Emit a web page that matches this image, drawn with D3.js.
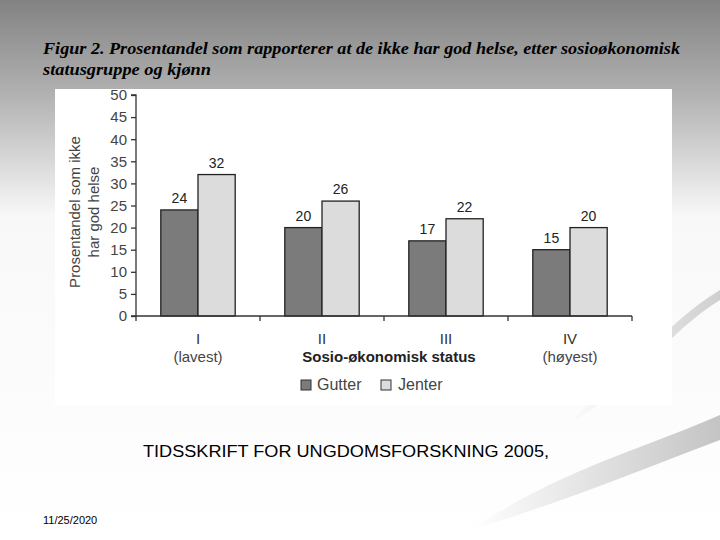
<!DOCTYPE html>
<html><head><meta charset="utf-8">
<script src="https://cdn.jsdelivr.net/npm/d3@7"></script>
<style>body{margin:0;background:#fff}svg{display:block}</style>
</head><body>
<script>
const categories = ["I", "II", "III", "IV"];
const catSub = ["(lavest)", "", "", "(høyest)"];
const series = ["Gutter", "Jenter"];
const gutter = [24, 20, 17, 15];
const jenter = [32, 26, 22, 20];
const yTicks = [0, 5, 10, 15, 20, 25, 30, 35, 40, 45, 50];
const colors = {Gutter: "#7b7b7b", Jenter: "#dcdcdc"};

const W = 720, H = 540;
const svg = d3.select("body").append("svg").attr("width", W).attr("height", H);
const defs = svg.append("defs");
const bg = defs.append("linearGradient").attr("id", "bg").attr("x1", 0).attr("y1", 0).attr("x2", 0).attr("y2", 1);
bg.append("stop").attr("offset", 0).attr("stop-color", "#828282");
bg.append("stop").attr("offset", 0.17).attr("stop-color", "#b0b0b0");
bg.append("stop").attr("offset", 0.40).attr("stop-color", "#f8f8f8");
bg.append("stop").attr("offset", 1).attr("stop-color", "#ffffff");
svg.append("rect").attr("width", W).attr("height", H).attr("fill", "url(#bg)");

// swoosh decorations
const sw = defs.append("linearGradient").attr("id", "sw").attr("x1", 0).attr("y1", 0).attr("x2", 1).attr("y2", 0);
sw.append("stop").attr("offset", 0).attr("stop-color", "#ffffff");
sw.append("stop").attr("offset", 1).attr("stop-color", "#c4c4c4");
svg.append("path").attr("d", "M470,530 C560,470 640,450 720,415 L720,440 C640,470 570,500 470,530 Z").attr("fill", "url(#sw)");
svg.append("path").attr("d", "M560,430 C620,380 670,320 720,290 L720,300 C670,330 630,390 560,430 Z").attr("fill", "url(#sw)").attr("opacity", 0.8);

// title
const title = svg.append("g").attr("font-family", "'Liberation Serif','Times New Roman',serif")
  .attr("font-style", "italic").attr("font-weight", "bold").attr("font-size", 17).attr("fill", "#000");
title.append("text").attr("x", 43).attr("y", 54).attr("textLength", 637).attr("lengthAdjust", "spacingAndGlyphs")
  .text("Figur 2. Prosentandel som rapporterer at de ikke har god helse, etter sosioøkonomisk");
title.append("text").attr("x", 43).attr("y", 75).attr("textLength", 168).attr("lengthAdjust", "spacingAndGlyphs")
  .text("statusgruppe og kjønn");

// chart image area
svg.append("rect").attr("x", 55).attr("y", 89).attr("width", 617).attr("height", 316).attr("fill", "#ffffff");

const x0 = 136, x1 = 632, yTop = 95, yBot = 316;
const x = d3.scaleBand().domain(categories).range([x0, x1]).paddingInner(0.4).paddingOuter(0.2);
const xs = d3.scaleBand().domain(series).range([0, x.bandwidth()]);
const y = d3.scaleLinear().domain([0, 50]).range([yBot, yTop]);

const font = "Arial, 'Liberation Sans', sans-serif";
const g = svg.append("g").attr("font-family", font);

// bars
const rows = categories.map((c, i) => ({c, vals: [{s: "Gutter", v: gutter[i]}, {s: "Jenter", v: jenter[i]}]}));
const grp = g.selectAll(".grp").data(rows).join("g").attr("transform", d => `translate(${x(d.c)},0)`);
grp.selectAll("rect").data(d => d.vals).join("rect")
  .attr("x", d => xs(d.s)).attr("y", d => y(d.v)).attr("width", xs.bandwidth()).attr("height", d => y(0) - y(d.v))
  .attr("fill", d => colors[d.s]).attr("stroke", "#222").attr("stroke-width", 1.3);
grp.selectAll("text").data(d => d.vals).join("text")
  .attr("x", d => xs(d.s) + xs.bandwidth() / 2).attr("y", d => y(d.v) - 7)
  .attr("text-anchor", "middle").attr("font-size", 14).attr("fill", "#222").text(d => d.v);

// y axis
const yAxis = g.append("g").attr("transform", `translate(${x0},0)`)
  .call(d3.axisLeft(y).tickValues(yTicks).tickSize(5).tickPadding(4));
yAxis.select(".domain").attr("stroke", "#333").attr("stroke-width", 1.3).attr("d", `M-5,${yTop}H0V${yBot}`);
yAxis.selectAll(".tick line").attr("stroke", "#333").attr("stroke-width", 1.3);
yAxis.selectAll(".tick text").attr("font-size", 15).attr("fill", "#444").attr("font-family", font);

// x axis line with boundary ticks
const step = x.step();
const bounds = d3.range(categories.length + 1).map(i => x0 + i * step);
g.append("line").attr("x1", x0 - 5).attr("x2", x1).attr("y1", yBot).attr("y2", yBot).attr("stroke", "#333").attr("stroke-width", 1.3);
g.selectAll(".bt").data(bounds).join("line").attr("class", "bt")
  .attr("x1", d => d).attr("x2", d => d).attr("y1", yBot).attr("y2", yBot + 5).attr("stroke", "#333").attr("stroke-width", 1.3);

// category labels
categories.forEach((c, i) => {
  const cx = x(c) + x.bandwidth() / 2;
  g.append("text").attr("x", cx).attr("y", 344).attr("text-anchor", "middle").attr("font-size", 15).attr("fill", "#333").text(c);
  if (catSub[i]) g.append("text").attr("x", cx).attr("y", 362).attr("text-anchor", "middle").attr("font-size", 15).attr("fill", "#444").text(catSub[i]);
});
g.append("text").attr("x", 389).attr("y", 362).attr("text-anchor", "middle").attr("font-size", 15).attr("font-weight", "bold").attr("fill", "#222").text("Sosio-økonomisk status");

// y axis title
const yt = g.append("text").attr("transform", "rotate(-90)").attr("font-size", 15).attr("fill", "#444").attr("text-anchor", "middle");
yt.append("tspan").attr("x", -212).attr("y", 80).text("Prosentandel som ikke");
yt.append("tspan").attr("x", -212).attr("y", 99).text("har god helse");

// legend
const leg = g.append("g");
const legX = [301, 381], legTX = [317, 398];
series.forEach((s, i) => {
  leg.append("rect").attr("x", legX[i]).attr("y", 380).attr("width", 10).attr("height", 10).attr("fill", colors[s]).attr("stroke", "#333").attr("stroke-width", 1);
  leg.append("text").attr("x", legTX[i]).attr("y", 390).attr("font-size", 16).attr("fill", "#444").text(s);
});

// source and date
svg.append("text").attr("x", 143).attr("y", 457).attr("font-family", font).attr("font-size", 16).attr("fill", "#000")
  .attr("textLength", 406).attr("lengthAdjust", "spacingAndGlyphs").text("TIDSSKRIFT FOR UNGDOMSFORSKNING 2005,");
svg.append("text").attr("x", 43).attr("y", 524).attr("font-family", font).attr("font-size", 11).attr("fill", "#000").text("11/25/2020");
</script>
</body></html>
